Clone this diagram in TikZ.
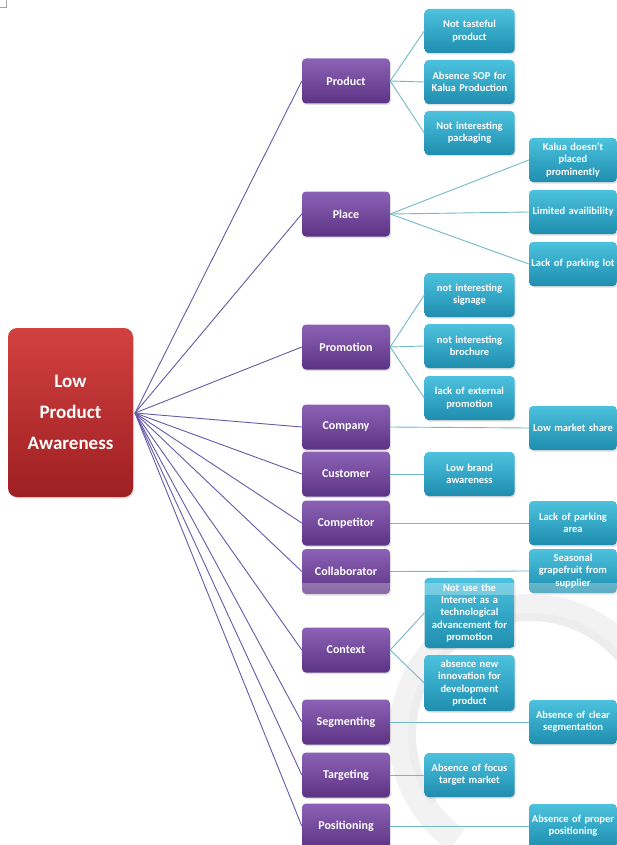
\documentclass[tikz,border=0pt]{standalone}
\usepackage{fontspec}
\setmainfont{Carlito}
\usetikzlibrary{shadows}
\definecolor{redtop}{HTML}{D2413F}
\definecolor{redbot}{HTML}{9E1F22}
\definecolor{purtop}{HTML}{8C62B6}
\definecolor{purbot}{HTML}{5C3384}
\definecolor{cyantop}{HTML}{4CC2DE}
\definecolor{cyanbot}{HTML}{1F8DAF}
\definecolor{rootline}{HTML}{6659A8}
\definecolor{leafline}{HTML}{72B9C9}
\tikzset{
  basebox/.style={rounded corners=4pt, text=white, font=\bfseries, align=center, inner sep=1pt,
    drop shadow={shadow xshift=1pt, shadow yshift=-1.5pt, opacity=0.25}},
  rootbox/.style={basebox, top color=redtop, bottom color=redbot, minimum width=125pt, minimum height=169pt,
    font=\bfseries\fontsize{19}{31}\selectfont, rounded corners=9pt},
  catbox/.style={basebox, top color=purtop, bottom color=purbot, minimum width=88pt, minimum height=45pt,
    font=\bfseries\fontsize{12}{14}\selectfont},
  leafbox/.style={basebox, top color=cyantop, bottom color=cyanbot, minimum width=89pt, minimum height=44pt,
    text width=88pt, font=\bfseries\fontsize{10.5}{12.3}\selectfont},
  farbox/.style={leafbox, minimum width=86pt, text width=86pt},
  rootlink/.style={draw=rootline, line width=0.9pt},
  leaflink/.style={draw=leafline, line width=0.9pt}
}
\begin{document}
\begin{tikzpicture}[x=1pt,y=-1pt]
\useasboundingbox (0,0) rectangle (617,845);
\fill[white] (0,0) rectangle (617,845);
% corner mark
\draw[gray!70, line width=0.8pt] (0,7) -- (6,7) -- (6,0);
% background swirl
\draw[line width=26pt, gray!10] (530,735) ++(10:128) arc[start angle=10, end angle=-235, radius=128];
\draw[line width=8pt, gray!14] (530,735) ++(-30:118) arc[start angle=-30, end angle=-215, radius=118];

% root
\node[rootbox] (root) at (70.5,412.5) {Low\\Product\\Awareness};
\coordinate (hub) at (135,413);

% categories
\node[catbox] (product) at (346,81) {Product};
\node[catbox] (place) at (346,214) {Place};
\node[catbox] (promotion) at (346,347) {Promotion};
\node[catbox] (company) at (346,427) {Company};
\node[catbox] (customer) at (346,474) {Customer};
\node[catbox] (competitor) at (346,523) {Competitor};
\node[catbox] (collaborator) at (346,571.5) {Collaborator};
\node[catbox] (context) at (346,650) {Context};
\node[catbox] (segmenting) at (346,722) {Segmenting};
\node[catbox] (targeting) at (346,775) {Targeting};
\node[catbox] (positioning) at (346,826) {Positioning};

% leaves column 1
\node[leafbox] (p1) at (469.5,31) {Not tasteful\\product};
\node[leafbox] (p2) at (469.5,82) {Absence SOP for\\Kalua Production};
\node[leafbox] (p3) at (469.5,133) {Not interesting\\packaging};
\node[leafbox] (pr1) at (469.5,295) {not interesting\\signage};
\node[leafbox] (pr2) at (469.5,346) {not interesting\\brochure};
\node[leafbox] (pr3) at (469.5,398) {lack of external\\promotion};
\node[leafbox] (cu1) at (469.5,474) {Low brand\\awareness};
\node[leafbox, minimum height=70pt] (cx1) at (469.5,613) {Not use the\\Internet as a\\technological\\advancement for\\promotion};
\node[leafbox, minimum height=56pt] (cx2) at (469.5,683) {absence new\\innovation for\\development\\product};
\node[leafbox] (t1) at (469.5,775) {Absence of focus\\target market};

% leaves column 2
\node[farbox] (pl1) at (573,160) {Kalua doesn't\\placed\\prominently};
\node[farbox] (pl2) at (573,212) {Limited availibility};
\node[farbox] (pl3) at (573,264) {Lack of parking lot};
\node[farbox] (co1) at (573,428) {Low market share};
\node[farbox] (cm1) at (573,523) {Lack of parking\\area};
\node[farbox] (cl1) at (573,571) {Seasonal\\grapefruit from\\supplier};
\node[farbox] (s1) at (573,722) {Absence of clear\\segmentation};
\node[farbox] (ps1) at (573,826) {Absence of proper\\positioning};

% overlay band (lighter lower part of Collaborator row)
\fill[white, opacity=0.28] (302,583) rectangle (617,595);

% root connectors
\foreach \n in {product,place,promotion,company,customer,competitor,collaborator,context,segmenting,targeting,positioning}
  \path[rootlink] (hub) -- (\n.west);

% leaf connectors
\path[leaflink] (product.east) -- (p1.west);
\path[leaflink] (product.east) -- (p2.west);
\path[leaflink] (product.east) -- (p3.west);
\path[leaflink] (place.east) -- (pl1.west);
\path[leaflink] (place.east) -- (pl2.west);
\path[leaflink] (place.east) -- (pl3.west);
\path[leaflink] (promotion.east) -- (pr1.west);
\path[leaflink] (promotion.east) -- (pr2.west);
\path[leaflink] (promotion.east) -- (pr3.west);
\path[leaflink] (company.east) -- (co1.west);
\path[leaflink] (customer.east) -- (cu1.west);
\path[leaflink] (competitor.east) -- (cm1.west);
\path[leaflink] (collaborator.east) -- (cl1.west);
\path[leaflink] (context.east) -- (cx1.west);
\path[leaflink] (context.east) -- (cx2.west);
\path[leaflink] (segmenting.east) -- (s1.west);
\path[leaflink] (targeting.east) -- (t1.west);
\path[leaflink] (positioning.east) -- (ps1.west);
\end{tikzpicture}
\end{document}
